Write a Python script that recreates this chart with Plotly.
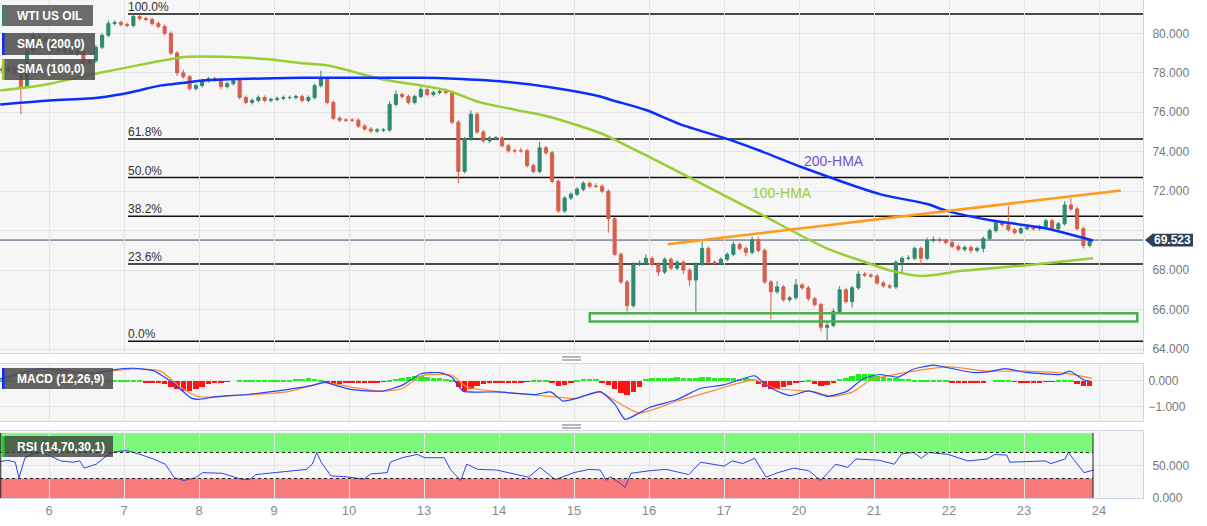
import plotly.graph_objects as go

# ---------------- data ----------------
day_labels = ['6', '7', '8', '9', '10', '13', '14', '15', '16', '17', '20', '21', '22', '23', '24']

first_open = 78.20
close = [
    78.10, 78.25, 78.00, 77.30, 79.10, 79.90, 79.80, 79.60, 79.20, 79.10, 79.20, 79.00,
    79.10, 78.50, 78.60, 79.30, 79.90, 80.50, 80.55, 80.45, 80.40, 80.85, 80.75, 80.70,
    80.50, 80.35, 80.00, 79.00, 78.00, 77.80, 77.20, 77.35, 77.60, 77.70, 77.65, 77.30,
    77.45, 77.60, 76.75, 76.50, 76.60, 76.75, 76.60, 76.65, 76.70, 76.75, 76.75, 76.80,
    76.60, 76.75, 77.35, 77.70, 76.50, 75.70, 75.60, 75.60, 75.60, 75.30, 75.15, 75.05,
    75.10, 75.10, 76.40, 76.90, 76.80, 76.50, 76.80, 77.15, 76.90, 77.00, 77.05, 77.00,
    75.50, 73.00, 74.65, 75.90, 75.00, 74.55, 74.70, 74.70, 74.30, 74.05, 74.05, 74.05,
    73.30, 73.00, 74.20, 73.95, 72.50, 71.00, 71.65, 71.85, 72.10, 72.40, 72.25, 72.25,
    72.00, 70.60, 68.80, 67.40, 66.20, 68.30, 68.35, 68.60, 68.30, 67.90, 68.55, 68.10,
    68.40, 68.00, 67.50, 68.30, 69.10, 68.40, 68.35, 68.55, 68.80, 69.30, 69.10, 68.90,
    69.55, 69.00, 67.40, 66.90, 67.15, 66.50, 66.60, 67.25, 67.10, 66.55, 66.25, 65.10,
    65.20, 65.90, 67.00, 66.40, 67.10, 67.80, 67.75, 67.70, 67.35, 67.20, 67.15, 68.40,
    68.60, 68.60, 69.10, 68.60, 69.50, 69.55, 69.50, 69.40, 69.20, 69.05, 69.15, 69.00,
    69.10, 69.60, 70.00, 70.40, 70.30, 70.05, 69.90, 70.10, 70.15, 70.10, 70.20, 70.50,
    70.10, 70.35, 71.30, 71.10, 70.10, 69.25, 69.52]

wick_up = [
    .10, .10, .15, .10, .15, .15, .10, .10, .10, .10, .10, .10,
    .10, .10, .10, .10, .10, .15, .10, .10, .10, .13, .10, .10,
    .10, .10, .10, .10, .10, .15, .10, .10, .10, .10, .10, .10,
    .10, .10, .10, .10, .10, .10, .10, .10, .10, .10, .10, .10,
    .10, .10, .10, .40, .10, .10, .10, .10, .10, .10, .10, .10,
    .10, .10, .15, .20, .10, .10, .10, .25, .10, .10, .10, .15,
    .10, .10, .10, .20, .10, .10, .10, .10, .10, .10, .10, .15,
    .10, .10, .30, .10, .10, .10, .10, .10, .10, .10, .10, .15,
    .10, .10, .10, .10, .10, .10, .15, .20, .10, .10, .10, .10,
    .10, .10, .10, .10, .35, .10, .10, .10, .10, .15, .10, .10,
    .15, .15, .10, .10, .30, .10, .10, .30, .10, .10, .10, .10,
    .20, .15, .20, .10, .10, .15, .10, .10, .10, .10, .10, .10,
    .10, .15, .10, .10, .15, .15, .10, .10, .10, .10, .10, .10,
    .10, .10, .10, .15, .10, .95, .10, .10, .10, .10, .10, .10,
    .10, .10, .20, .35, .10, .10, .05]

wick_dn = [
    .15, .10, .10, 1.40, .10, .10, .10, .10, .10, .10, .10, .10,
    .15, .15, .10, .10, .10, .10, .10, .10, .10, .10, .10, .10,
    .10, .10, .10, .10, .15, .10, .10, .10, .10, .10, .10, .15,
    .10, .10, .10, .10, .10, .10, .10, .10, .10, .10, .10, .10,
    .10, .10, .10, .10, .10, .10, .10, .10, .10, .10, .10, .10,
    .10, .10, .10, .10, .10, .10, .10, .10, .10, .10, .10, .10,
    .10, .60, .10, .10, .10, .10, .10, .10, .10, .10, .10, .10,
    .10, .10, .10, .10, .10, .10, .10, .10, .10, .10, .10, .10,
    .10, .70, .10, .10, .30, .10, .10, .10, .10, .20, .10, .10,
    .10, .20, .30, 1.60, .10, .10, .10, .10, .10, .10, .10, .20,
    .10, .10, .10, 1.40, .10, .10, .10, .10, .10, .10, .10, .20,
    .70, .10, .10, .10, .30, .10, .10, .10, .10, .10, .10, .10,
    .60, .10, .10, .35, .10, .10, .10, .10, .10, .10, .10, .15,
    .10, .20, .10, .10, .10, .10, .10, .10, .10, .10, .10, .10,
    .10, .10, .10, .10, .10, .15, .10]

# Hull moving averages (x in trading-day units, 0 = day "6")
hma200_x = [-0.65, 0.01, 0.68, 1.08, 1.48, 1.81, 2.01, 2.68, 3.35, 3.75, 4.95, 5.41, 6.01, 6.68,
            7.35, 7.52, 7.97, 8.41, 9.04, 9.48, 10.05, 11.08, 11.71, 11.97, 12.59, 13.25, 13.92]
hma200_y = [76.40, 76.60, 76.75, 77.00, 77.35, 77.50, 77.60, 77.70, 77.75, 77.75, 77.75, 77.70, 77.57, 77.27,
            76.80, 76.60, 76.10, 75.40, 74.65, 74.05, 73.20, 71.85, 71.35, 71.00, 70.50, 70.15, 69.50]
hma100_x = [-0.65, -0.32, 0.01, 0.68, 1.08, 1.48, 1.81, 2.41, 2.88, 3.35, 3.75, 4.41, 5.31, 5.75,
            6.64, 7.35, 7.52, 7.97, 8.59, 9.48, 10.37, 10.81, 11.25, 11.65, 12.15, 13.04, 13.92]
hma100_y = [77.10, 77.25, 77.45, 78.00, 78.30, 78.60, 78.80, 78.80, 78.70, 78.50, 78.35, 77.70, 77.10, 76.50,
            75.80, 74.95, 74.65, 73.80, 72.60, 70.85, 69.10, 68.50, 67.95, 67.70, 67.95, 68.25, 68.60]

# Fibonacci swing
fib_high = 80.98
fib_low = 64.40
fib_levels = [1.0, 0.618, 0.5, 0.382, 0.236, 0.0]
fib_names = ['100.0%', '61.8%', '50.0%', '38.2%', '23.6%', '0.0%']
fib_start = 1.053

last_price = 69.523
trend_x = [8.25, 14.29]
trend_y = [69.31, 72.04]
zone_x = [7.21, 14.51]
zone_y = [65.40, 65.82]

# MACD (12,26,9)
macd_x = [-0.65, -0.15, 0.11, 0.63, 0.88, 1.13, 1.39, 1.64, 1.89, 2.00, 2.20, 2.67, 3.17, 3.53, 3.68, 3.84,
          4.04, 4.45, 4.71, 4.96, 5.21, 5.37, 5.52, 5.97, 6.49, 6.69, 6.85, 7.00, 7.35, 7.55, 7.68, 7.87,
          8.01, 8.37, 8.69, 9.00, 9.41, 9.52, 9.67, 9.88, 10.13, 10.39, 10.65, 10.85, 11.07, 11.32, 11.53,
          11.79, 11.99, 12.31, 12.51, 12.75, 13.03, 13.49, 13.61, 13.80, 13.88]
macd_y = [0.09, 0.47, 0.44, 0.28, 0.44, 0.49, 0.40, -0.04, -0.65, -0.71, -0.61, -0.51, -0.33, -0.16, -0.04, -0.19,
          -0.33, -0.39, -0.16, 0.28, 0.32, 0.15, -0.39, -0.42, -0.52, -0.42, -0.77, -0.70, -0.41, -0.91, -1.48, -1.23,
          -1.01, -0.72, -0.28, -0.15, 0.20, -0.05, -0.34, -0.56, -0.38, -0.59, -0.38, 0.08, 0.25, 0.15, 0.46,
          0.61, 0.51, 0.33, 0.35, 0.48, 0.33, 0.25, 0.38, 0.04, 0.00]
signal_x = [-0.65, -0.15, 0.63, 1.13, 1.49, 1.75, 2.00, 2.41, 3.17, 3.68, 4.04, 4.45, 4.71, 4.96, 5.37, 5.57,
            6.24, 6.75, 7.00, 7.35, 7.60, 7.87, 8.37, 8.89, 9.41, 9.67, 10.19, 10.44, 10.71, 10.96, 11.48,
            11.99, 12.51, 13.03, 13.55, 13.91]
signal_y = [0.05, 0.34, 0.34, 0.47, 0.37, -0.23, -0.61, -0.57, -0.42, -0.06, -0.24, -0.39, -0.29, 0.19, 0.22, -0.23,
            -0.48, -0.61, -0.67, -0.44, -0.85, -1.23, -0.78, -0.34, 0.04, -0.28, -0.41, -0.59, -0.43, 0.04, 0.35,
            0.54, 0.38, 0.38, 0.29, 0.10]
hist = [
    .03, .03, .03, .03, .05, .05, .05, .05, .05, .05, -.03, -.03,
    -.03, -.05, -.05, .05, .05, .05, .06, .07, .06, .05, .04, -.04,
    -.06, -.08, -.10, -.20, -.30, -.36, -.37, -.30, -.20, -.10, -.04, -.03,
    -.02, .00, .02, .03, .04, .05, .05, .05, .06, .06, .07, .08,
    .10, .12, .10, .05, -.06, -.10, -.10, -.08, -.07, -.06, -.05, -.04,
    -.03, -.02, .05, .10, .15, .18, .20, .19, .17, .15, .13, .10,
    .05, -.20, -.35, -.30, -.18, -.10, -.07, -.06, -.05, -.05, -.04, -.03,
    -.02, .02, .04, .03, -.08, -.17, -.15, -.08, .05, .08, .10, .10,
    -.05, -.15, -.30, -.45, -.54, -.40, -.20, .08, .12, .13, .15, .15,
    .16, .15, .12, .14, .17, .16, .15, .13, .12, .12, .11, .12,
    .10, -.10, -.22, -.30, -.28, -.22, -.15, -.08, -.02, .02, -.10, -.19,
    -.15, -.05, .08, .15, .22, .28, .30, .28, .22, .18, .15, .12,
    .10, .08, .07, .06, .05, .04, .03, .02, -.05, -.08, -.08, -.07,
    -.06, -.04, .00, .03, .05, .04, -.02, -.03, -.03, -.03, -.03, -.02,
    -.02, .02, .05, .04, -.10, -.17, -.19]

# RSI (14)
rsi_x = [-0.65, -0.55, -0.45, -0.40, -0.32, -0.20, -0.09, 0.01, 0.16, 0.32, 0.41, 0.47, 0.63, 0.77, 0.88, 1.03,
         1.19, 1.39, 1.55, 1.61, 1.67, 1.80, 1.95, 2.05, 2.31, 2.56, 2.67, 2.76, 3.03, 3.23, 3.43, 3.51, 3.57,
         3.63, 3.76, 3.93, 4.20, 4.29, 4.51, 4.55, 4.71, 4.91, 5.01, 5.27, 5.35, 5.49, 5.57, 5.72, 5.97, 6.39,
         6.55, 6.75, 7.00, 7.20, 7.35, 7.43, 7.48, 7.65, 7.68, 7.76, 8.01, 8.23, 8.53, 8.69, 9.00, 9.11, 9.25,
         9.41, 9.56, 9.72, 9.93, 10.13, 10.29, 10.49, 10.65, 10.76, 11.07, 11.27, 11.37, 11.53, 11.63, 11.73,
         11.99, 12.25, 12.51, 12.61, 12.77, 12.81, 13.28, 13.36, 13.55, 13.59, 13.80, 13.93]
rsi_y = [56, 58, 55, 31, 62, 68, 70, 65, 57, 55, 57, 46, 52, 65, 71, 73,
         68, 60, 52, 42, 31, 27, 31, 39, 38, 29, 28, 36, 39, 42, 44, 52, 70,
         55, 34, 33, 29, 37, 39, 55, 62, 67, 62, 62, 44, 27, 52, 44, 43, 32,
         47, 28, 39, 44, 43, 27, 33, 20, 16, 38, 42, 44, 36, 55, 49, 57, 53,
         61, 32, 39, 46, 42, 27, 52, 47, 60, 58, 52, 68, 70, 61, 70,
         67, 57, 60, 67, 66, 55, 57, 53, 60, 70, 39, 43]
rsi_band_end = 13.92

# ---------------- geometry ----------------
W, H = 1143, 498
x_left, x_right = -49 / 75, (1143 - 49) / 75


def px(x):
    return x / W


def py(y):
    return (H - y) / H


GREEN = '#2f8a70'
RED = '#d65f4c'
FONT = 'Liberation Sans, Arial'

cx = [-0.625 + k / 12 for k in range(len(close))]
opens = [first_open] + close[:-1]
highs = [max(o, c) + w for o, c, w in zip(opens, close, wick_up)]
lows = [min(o, c) - w for o, c, w in zip(opens, close, wick_dn)]

fig = go.Figure()

fig.add_trace(go.Scatter(x=hma100_x, y=hma100_y, mode='lines', line=dict(color='#9acd32', width=2.5, shape='spline', smoothing=0.8),
                         hoverinfo='skip', showlegend=False, xaxis='x', yaxis='y'))
fig.add_trace(go.Scatter(x=hma200_x, y=hma200_y, mode='lines', line=dict(color='#0a2eff', width=2.5, shape='spline', smoothing=0.8),
                         hoverinfo='skip', showlegend=False, xaxis='x', yaxis='y'))
fig.add_trace(go.Candlestick(x=cx, open=opens, high=highs, low=lows, close=close,
                             increasing=dict(line=dict(color=GREEN, width=1), fillcolor=GREEN),
                             decreasing=dict(line=dict(color=RED, width=1), fillcolor=RED),
                             whiskerwidth=0, showlegend=False, xaxis='x', yaxis='y'))
fig.add_trace(go.Scatter(x=trend_x, y=trend_y, mode='lines', line=dict(color='#ff9a1a', width=2.5),
                         hoverinfo='skip', showlegend=False, xaxis='x', yaxis='y'))

# MACD
fig.add_trace(go.Bar(x=cx, y=hist, marker=dict(color=['#22ee22' if v >= 0 else '#ff1414' for v in hist], line=dict(width=0)),
                     width=1 / 12 * 0.9, showlegend=False, xaxis='x2', yaxis='y2'))
fig.add_trace(go.Scatter(x=signal_x, y=signal_y, mode='lines', line=dict(color='#ff8a30', width=1.2, shape='spline', smoothing=0.6),
                         showlegend=False, xaxis='x2', yaxis='y2'))
fig.add_trace(go.Scatter(x=macd_x, y=macd_y, mode='lines', line=dict(color='#2243ff', width=1.2, shape='spline', smoothing=0.5),
                         showlegend=False, xaxis='x2', yaxis='y2'))

# RSI
fig.add_trace(go.Scatter(x=rsi_x, y=rsi_y, mode='lines', line=dict(color='#2a45ee', width=1),
                         showlegend=False, xaxis='x3', yaxis='y3'))

shapes = []
for lv in fib_levels:
    val = fib_low + lv * (fib_high - fib_low)
    shapes.append(dict(type='line', xref='x', yref='y', x0=fib_start, x1=x_right, y0=val, y1=val,
                       line=dict(color='#111111', width=1.5), layer='below'))
shapes.append(dict(type='line', xref='x', yref='y', x0=x_left, x1=x_right, y0=last_price, y1=last_price,
                   line=dict(color='#3d4f66', width=1), layer='below'))
shapes.append(dict(type='rect', xref='x', yref='y', x0=zone_x[0], x1=zone_x[1], y0=zone_y[0], y1=zone_y[1],
                   line=dict(color='#4caf50', width=2.5), fillcolor='rgba(0,0,0,0)'))
shapes.append(dict(type='rect', xref='x3', yref='y3', x0=x_left, x1=rsi_band_end, y0=70, y1=100,
                   fillcolor='#7cf87c', line=dict(width=0), layer='below'))
shapes.append(dict(type='rect', xref='x3', yref='y3', x0=x_left, x1=rsi_band_end, y0=0, y1=30,
                   fillcolor='#f87a7a', line=dict(width=0), layer='below'))
for lv in (70, 30):
    shapes.append(dict(type='line', xref='x3', yref='y3', x0=x_left, x1=rsi_band_end, y0=lv, y1=lv,
                       line=dict(color='#222', width=1, dash='dot')))
shapes.append(dict(type='line', xref='x3', yref='y3', x0=rsi_band_end, x1=rsi_band_end, y0=0, y1=100,
                   line=dict(color='#222', width=1)))
shapes.append(dict(type='line', xref='x3', yref='y3', x0=x_left + 0.01, x1=x_left + 0.01, y0=0, y1=100,
                   line=dict(color='#222', width=1)))

boxes = [
    ('WTI US OIL', 2, 93, 5, 26, GREEN, 'rgba(95,95,95,0.92)'),
    ('SMA (200,0)', 2, 95, 33, 55, '#0a2eff', 'rgba(80,80,80,0.88)'),
    ('SMA (100,0)', 2, 95, 59, 80, '#9acd32', 'rgba(80,80,80,0.88)'),
    ('MACD (12,26,9)', 2, 113, 368, 389, '#0a2eff', 'rgba(80,80,80,0.88)'),
    ('RSI (14,70,30,1)', 2, 113, 436, 457, '#22cc22', 'rgba(60,60,60,0.78)'),
]
annotations = []
for text, x0, x1, y0, y1, sc, fc in boxes:
    shapes.append(dict(type='rect', xref='paper', yref='paper', x0=px(x0), x1=px(x1), y0=py(y1), y1=py(y0),
                       fillcolor=fc, line=dict(width=0), layer='above'))
    shapes.append(dict(type='rect', xref='paper', yref='paper', x0=px(x0), x1=px(x0 + 2.5), y0=py(y1), y1=py(y0),
                       fillcolor=sc, line=dict(width=0), layer='above'))
    annotations.append(dict(xref='paper', yref='paper', x=px(15), y=py((y0 + y1) / 2), text='<b>%s</b>' % text,
                            showarrow=False, xanchor='left', yanchor='middle',
                            font=dict(family=FONT, size=12, color='white')))

for yy in (357, 360, 425, 428):
    shapes.append(dict(type='line', xref='paper', yref='paper', x0=px(562), x1=px(581), y0=py(yy), y1=py(yy),
                       line=dict(color='#888', width=1.2)))

# price tag
shapes.append(dict(type='rect', xref='paper', yref='y', x0=px(1152), x1=px(1193), y0=last_price - 0.32, y1=last_price + 0.32,
                   fillcolor='#2e3f5c', line=dict(width=0), layer='above'))
shapes.append(dict(type='path', xref='paper', yref='y', layer='above',
                   path='M %f %f L %f %f L %f %f Z' % (px(1145), last_price, px(1152.5), last_price + 0.32,
                                                        px(1152.5), last_price - 0.32),
                   fillcolor='#2e3f5c', line=dict(width=0)))
annotations.append(dict(xref='paper', yref='y', x=px(1172.5), y=last_price, text='<b>69.523</b>', showarrow=False,
                        xanchor='center', yanchor='middle', font=dict(family=FONT, size=12, color='white')))

for lv, name in zip(fib_levels, fib_names):
    val = fib_low + lv * (fib_high - fib_low)
    annotations.append(dict(xref='x', yref='y', x=fib_start, y=val, text=name, showarrow=False,
                            xanchor='left', yanchor='bottom', yshift=-2, xshift=-2,
                            font=dict(family=FONT, size=12, color='#333')))

annotations.append(dict(xref='x', yref='y', x=10.04, y=73.53, text='200-HMA', showarrow=False, xanchor='left',
                        yanchor='middle', font=dict(family=FONT, size=14, color='#7a4fcf')))
annotations.append(dict(xref='x', yref='y', x=9.35, y=71.91, text='100-HMA', showarrow=False, xanchor='left',
                        yanchor='middle', font=dict(family=FONT, size=14, color='#9acd32')))

axis_line = '#cdd5e6'
grid = '#e4e4e4'
tick_font = dict(family=FONT, size=12, color='#777')
tickvals = list(range(len(day_labels)))

xcommon = dict(range=[x_left, x_right], tickvals=tickvals, ticktext=day_labels, showgrid=True, gridcolor=grid,
               zeroline=False, showline=True, linecolor=axis_line, mirror=True,
               tickfont=dict(family=FONT, size=13, color='#888'))

# the 70.000 label sits under the price tag in the reference
main_ticks = [64, 66, 68, 70, 72, 74, 76, 78, 80]
main_text = ['' if v == 70 else '%.3f' % v for v in main_ticks]

fig.update_layout(
    width=1207, height=526,
    margin=dict(l=0, r=64, t=0, b=28),
    paper_bgcolor='white', plot_bgcolor='#f6f6f6',
    showlegend=False, bargap=0,
    xaxis=dict(**xcommon, anchor='y', showticklabels=False, rangeslider=dict(visible=False)),
    xaxis2=dict(**xcommon, anchor='y2', matches='x', showticklabels=False),
    xaxis3=dict(**xcommon, anchor='y3', matches='x', showticklabels=True, ticks=''),
    yaxis=dict(domain=[0.2912, 1], range=[63.80, 81.69], side='right', tickvals=main_ticks, ticktext=main_text,
               showgrid=True, gridcolor=grid, zeroline=False, showline=True, linecolor=axis_line,
               mirror=True, tickfont=tick_font, ticklabelstandoff=6),
    yaxis2=dict(domain=[0.1546, 0.2699], range=[-1.54, 0.67], side='right', tickvals=[0, -1], tickformat='.3f',
                showgrid=True, gridcolor=grid, zeroline=False, showline=True, linecolor=axis_line, mirror=True,
                tickfont=tick_font, ticklabelstandoff=2),
    yaxis3=dict(domain=[0, 0.1345], range=[0, 103], side='right', tickvals=[0, 50], tickformat='.3f',
                showgrid=True, gridcolor=grid, zeroline=False, showline=True, linecolor=axis_line, mirror=True,
                tickfont=tick_font, ticklabelstandoff=6),
    shapes=shapes, annotations=annotations,
)

fig.write_html('out.html', config={'displayModeBar': False},
               post_script="document.body.style.margin='0';document.body.style.overflow='hidden';")
